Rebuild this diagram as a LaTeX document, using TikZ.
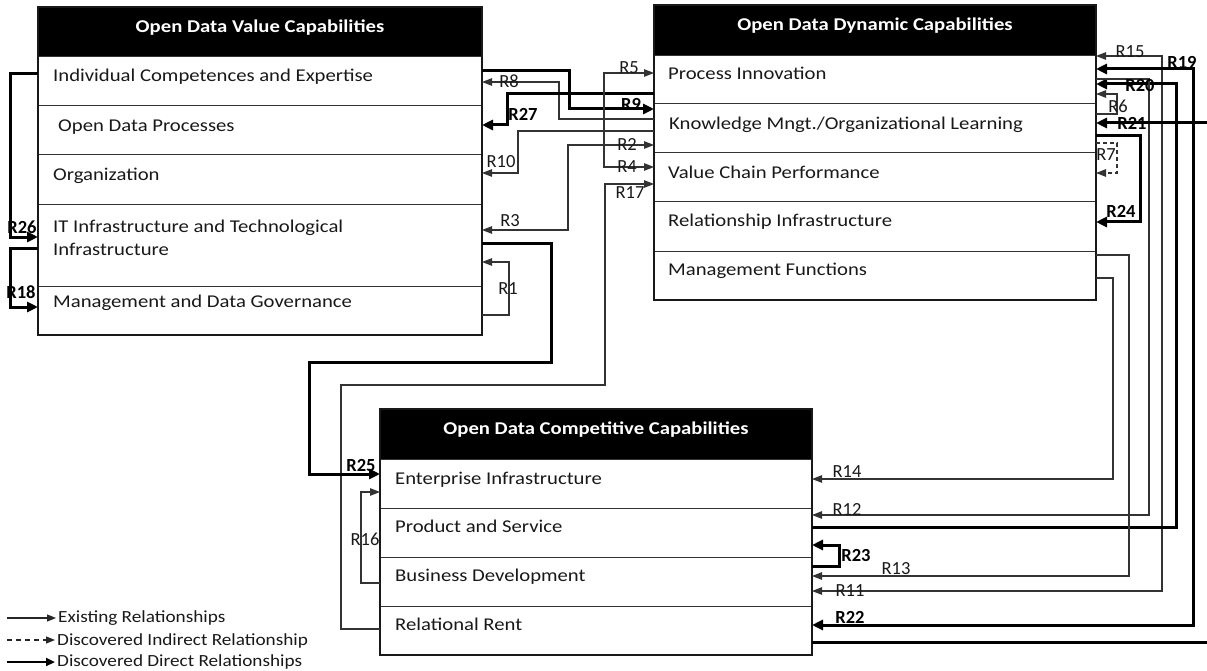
\documentclass[tikz,border=0pt]{standalone}
\usepackage{fontspec}
\setmainfont{Carlito}
\newfontfamily\bodyfont[FakeStretch=1.15]{Carlito}
\newfontfamily\legfont[FakeStretch=1.13]{Carlito}
\usetikzlibrary{arrows.meta}
\begin{document}
\begin{tikzpicture}[x=1pt,y=-1pt,
  rowbox/.style={draw=black!80, line width=0.9pt, fill=white, inner sep=0pt, outer sep=0pt, anchor=north west},
  headbox/.style={draw=black, fill=black, line width=0.9pt, inner sep=0pt, outer sep=0pt, anchor=north west},
  boxframe/.style={draw=black!90, line width=1.1pt},
  rowtext/.style={anchor=base west, inner sep=0pt, font=\bodyfont\fontsize{18}{22}\selectfont, text=black!90},
  titletext/.style={anchor=base, inner sep=0pt, font=\bodyfont\bfseries\fontsize{18}{22}\selectfont, text=white},
  legtext/.style={anchor=base west, inner sep=0pt, font=\legfont\fontsize{17}{20}\selectfont, text=black!90},
  rlab/.style={inner sep=0pt, font=\fontsize{18.5}{22}\selectfont, text=black!90},
  rlabb/.style={inner sep=0pt, font=\bfseries\fontsize{18.5}{22}\selectfont, text=black},
  rel/.style={draw=black!80, line width=1.2pt, >={Triangle[length=10pt,width=7.5pt]}},
  relthick/.style={draw=black, line width=3pt, >={Triangle[length=11pt,width=10pt]}},
  reldash/.style={draw=black!80, line width=1.1pt, dash pattern=on 4pt off 3pt, >={Triangle[length=10pt,width=7.5pt]}},
  legthick/.style={draw=black, line width=2.2pt, >={Triangle[length=9pt,width=8pt]}},
  legthin/.style={draw=black!85, line width=1.1pt, >={Triangle[length=9pt,width=7pt]}},
  legdash/.style={draw=black!85, line width=1.1pt, dash pattern=on 5pt off 4pt, >={Triangle[length=9pt,width=7pt]}}
]
\useasboundingbox (0,0) rectangle (1207,671);
\fill[white] (0,0) rectangle (1207,671);

% ---- Box 1: Open Data Value Capabilities
\node[headbox, minimum width=444pt, minimum height=49pt] (v0) at (38,7) {};
\node[rowbox, minimum width=444pt, minimum height=49pt] (v1) at (38,56) {};
\node[rowbox, minimum width=444pt, minimum height=49pt] (v2) at (38,105) {};
\node[rowbox, minimum width=444pt, minimum height=50pt] (v3) at (38,154) {};
\node[rowbox, minimum width=444pt, minimum height=82pt] (v4) at (38,204) {};
\node[rowbox, minimum width=444pt, minimum height=49pt] (v5) at (38,286) {};
\draw[boxframe] (v0.north west) rectangle (v5.south east);

% ---- Box 2: Open Data Dynamic Capabilities
\node[headbox, minimum width=442pt, minimum height=50pt] (d0) at (654,5) {};
\node[rowbox, minimum width=442pt, minimum height=48pt] (d1) at (654,55) {};
\node[rowbox, minimum width=442pt, minimum height=49pt] (d2) at (654,103) {};
\node[rowbox, minimum width=442pt, minimum height=49pt] (d3) at (654,152) {};
\node[rowbox, minimum width=442pt, minimum height=50pt] (d4) at (654,201) {};
\node[rowbox, minimum width=442pt, minimum height=49pt] (d5) at (654,251) {};
\draw[boxframe] (d0.north west) rectangle (d5.south east);

% ---- Box 3: Open Data Competitive Capabilities
\node[headbox, minimum width=432pt, minimum height=50pt] (c0) at (380,409) {};
\node[rowbox, minimum width=432pt, minimum height=49pt] (c1) at (380,459) {};
\node[rowbox, minimum width=432pt, minimum height=49pt] (c2) at (380,508) {};
\node[rowbox, minimum width=432pt, minimum height=49pt] (c3) at (380,557) {};
\node[rowbox, minimum width=432pt, minimum height=49pt] (c4) at (380,606) {};
\draw[boxframe] (c0.north west) rectangle (c4.south east);

% ---- texts
\node[titletext] (tv0) at (260,33) {Open Data Value Capabilities};
\node[rowtext] (tv1) at (53,81.7) {Individual Competences and Expertise};
\node[rowtext] (tv2) at (58,131.7) {Open Data Processes};
\node[rowtext] (tv3) at (53,180.5) {Organization};
\node[rowtext] (tv4a) at (53,233) {IT Infrastructure and Technological};
\node[rowtext] (tv4b) at (53,255) {Infrastructure};
\node[rowtext] (tv5) at (53,307.5) {Management and Data Governance};

\node[titletext] (td0) at (875,31) {Open Data Dynamic Capabilities};
\node[rowtext] (td1) at (668,79.5) {Process Innovation};
\node[rowtext] (td2) at (669,129.3) {Knowledge Mngt./Organizational Learning};
\node[rowtext] (td3) at (668,178.5) {Value Chain Performance};
\node[rowtext] (td4) at (668,226.5) {Relationship Infrastructure};
\node[rowtext] (td5) at (668,275.5) {Management Functions};

\node[titletext] (tc0) at (596,434) {Open Data Competitive Capabilities};
\node[rowtext] (tc1) at (395,484) {Enterprise Infrastructure};
\node[rowtext] (tc2) at (395,532.5) {Product and Service};
\node[rowtext] (tc3) at (395,581.5) {Business Development};
\node[rowtext] (tc4) at (395,630.5) {Relational Rent};

% ---- connectors between box 1 and box 2
\draw[rel,->] (d2.west |- 0,119) -- (559,119) -- (559,82) -- (v1.east |- 0,82); % R8
\draw[relthick,->] (v1.east |- 0,71) -- (569,71) -- (569,109) -- (d2.west |- 0,109); % R9
\draw[relthick,->] (d1.west |- 0,94) -- (507,94) -- (507,125) -- (v2.east |- 0,125); % R27
\draw[rel,->] (d2.west |- 0,131) -- (518,131) -- (518,173) -- (v3.east |- 0,173); % R10
\draw[rel,<->] (d1.west |- 0,73) -- (604,73) -- (604,167) -- (d3.west |- 0,167); % R5 / R4
\draw[rel,<->] (d2.west |- 0,145) -- (568,145) -- (568,230) -- (v4.east |- 0,230); % R2 / R3
\draw[rel,->] (c4.west |- 0,629) -- (341,629) -- (341,385) -- (605,385) -- (605,184) -- (d3.west |- 0,184); % R17
\draw[rel,->] (v5.east |- 0,315) -- (509,315) -- (509,262) -- (v4.east |- 0,262); % R1
\draw[relthick,->] (v4.east |- 0,243) -- (551,243) -- (551,362) -- (309,362) -- (309,474) -- (c1.west |- 0,474); % R25
\draw[rel,->] (c3.west |- 0,583) -- (361,583) -- (361,492) -- (c1.west |- 0,492); % R16
\draw[relthick,->] (v1.west |- 0,74) -- (10,74) -- (10,237) -- (v4.west |- 0,237); % R26
\draw[relthick,->] (v4.west |- 0,248) -- (10,248) -- (10,307) -- (v5.west |- 0,307); % R18

% ---- connectors on the right
\draw[rel,<->] (d1.east |- 0,56) -- (1162,56) -- (1162,591) -- (c3.east |- 0,591); % R15 / R11
\draw[relthick,<->] (d1.east |- 0,69) -- (1193,69) -- (1193,625) -- (c4.east |- 0,625); % R19 / R22
\draw[relthick,->] (c2.east |- 0,527) -- (1176,527) -- (1176,84) -- (d1.east |- 0,84); % R20
\draw[rel,->] (d1.east |- 0,79) -- (1149,79) -- (1149,515) -- (c2.east |- 0,515); % R12
\draw[rel,->] (d2.east |- 0,114) -- (1117,114) -- (1117,94) -- (d1.east |- 0,94); % R6
\coordinate (r21far) at (1207,123);
\draw[relthick,->] (r21far) -- (d2.east |- 0,123); % R21
\draw[reldash,->] (d2.east |- 0,143) -- (1117,143) -- (1117,173) -- (d3.east |- 0,173); % R7
\draw[relthick,->] (d2.east |- 0,136) -- (1140,136) -- (1140,222) -- (d4.east |- 0,222); % R24
\draw[rel,->] (d5.east |- 0,278) -- (1113,278) -- (1113,479) -- (c1.east |- 0,479); % R14
\draw[rel,->] (d5.east |- 0,255) -- (1129,255) -- (1129,576) -- (c3.east |- 0,576); % R13
\draw[relthick,->] (c3.east |- 0,566) -- (839,566) -- (839,545) -- (c2.east |- 0,545); % R23
\coordinate (botfar) at (1207,642);
\draw[relthick] (c4.east |- 0,642) -- (botfar);

% ---- relationship labels
\node[rlab] (l8) at (509,81) {R8};
\node[rlabb] (l9) at (631,104) {R9};
\node[rlabb] (l27) at (523,114) {R27};
\node[rlab] (l10) at (501,162) {R10};
\node[rlab] (l5) at (629,68) {R5};
\node[rlab] (l2) at (627,144) {R2};
\node[rlab] (l4) at (627,167) {R4};
\node[rlab] (l17) at (630,193) {R17};
\node[rlab] (l3) at (510,221) {R3};
\node[rlab] (l1) at (508,289) {R1};
\node[rlabb] (l26) at (22,227) {R26};
\node[rlabb] (l18) at (21,292) {R18};
\node[rlabb] (l25) at (361,465) {R25};
\node[rlab] (l16) at (365,539) {R16};
\node[rlab] (l15) at (1130,52) {R15};
\node[rlabb] (l19) at (1182,62) {R19};
\node[rlabb] (l20) at (1140,85) {R20};
\node[rlab] (l6) at (1118,106) {R6};
\node[rlabb] (l21) at (1132,123) {R21};
\node[rlab] (l7) at (1106,155) {R7};
\node[rlabb] (l24) at (1121,211) {R24};
\node[rlab] (l14) at (847,472) {R14};
\node[rlab] (l12) at (847,509) {R12};
\node[rlabb] (l23) at (856,555) {R23};
\node[rlab] (l13) at (896,569) {R13};
\node[rlab] (l11) at (850,591) {R11};
\node[rlabb] (l22) at (850,617) {R22};

% ---- legend
\coordinate (lg1a) at (7,618); \coordinate (lg1b) at (56,618);
\coordinate (lg2a) at (7,640); \coordinate (lg2b) at (55,640);
\coordinate (lg3a) at (7,662); \coordinate (lg3b) at (55,662);
\draw[legthin,->] (lg1a) -- (lg1b);
\draw[legdash,->] (lg2a) -- (lg2b);
\draw[legthick,->] (lg3a) -- (lg3b);
\node[legtext] (lt1) at (58,622.5) {Existing Relationships};
\node[legtext] (lt2) at (57,645) {Discovered Indirect Relationship};
\node[legtext] (lt3) at (57,666.8) {Discovered Direct Relationships};
\end{tikzpicture}
\end{document}
